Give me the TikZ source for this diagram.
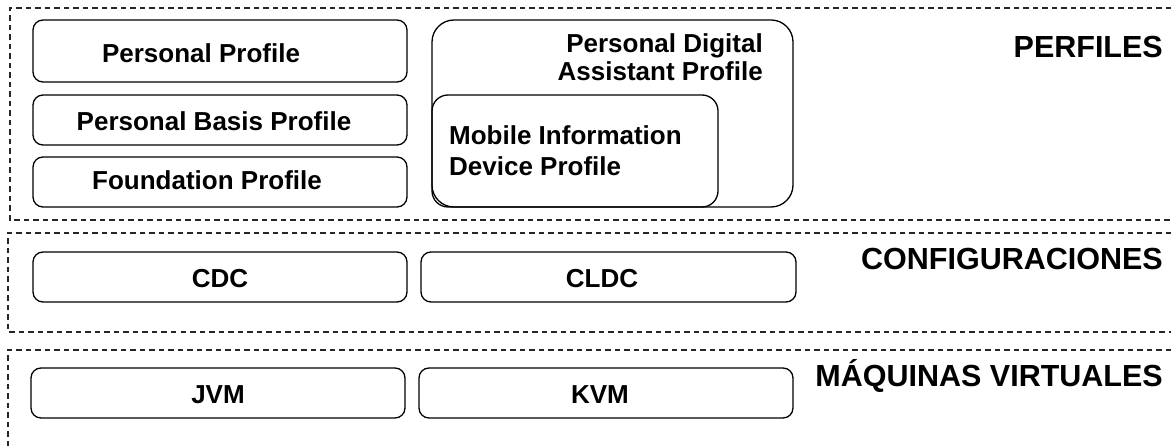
\documentclass[tikz,border=0pt]{standalone}
\usepackage{fontspec}
\setmainfont{Liberation Sans}
\begin{document}
\begin{tikzpicture}[x=1pt,y=-1pt,
  frame/.style={draw=black!85,line width=1.1pt,dash pattern=on 5.5pt off 4pt},
  box/.style={draw=black,line width=1.3pt,rounded corners=10pt},
  boxtext/.style={inner sep=0pt,font=\bfseries\fontsize{26}{31}\selectfont},
  layer/.style={inner sep=0pt,anchor=base east,font=\bfseries\fontsize{30.5}{36}\selectfont}]
\useasboundingbox (0,0) rectangle (1171,446);
% section frames (open on the right)
\draw[frame] (1171,8) -- (10,8) -- (10,220) -- (1171,220);
\draw[frame] (1171,233) -- (8,233) -- (8,332) -- (1171,332);
\draw[frame] (1171,350) -- (8,350) -- (8,446);
% profile boxes
\draw[box] (33,20) rectangle (407,82) coordinate (pp);
\draw[box] (33,95) rectangle (407,145) coordinate (pbp);
\draw[box] (33,157) rectangle (407,207) coordinate (fp);
\draw[box,rounded corners=22pt] (432,20) rectangle (793,207) coordinate (pda);
\draw[box,rounded corners=16pt] (432,95) rectangle (718,207) coordinate (midp);
\node[boxtext,anchor=base] (tpp) at (201,63) {Personal Profile};
\node[boxtext,anchor=base] (tpbp) at (214,131) {Personal Basis Profile};
\node[boxtext,anchor=base] (tfp) at (207,190) {Foundation Profile};
\node[boxtext,anchor=north east,align=right,font=\bfseries\fontsize{26}{28.5}\selectfont] (tpda) at (763,33) {Personal Digital\\Assistant Profile};
\node[boxtext,anchor=north west,align=left] (tmidp) at (449,125) {Mobile Information\\Device Profile};
% configurations
\draw[box] (33,252) rectangle (407,302) coordinate (cdc);
\draw[box] (421,252) rectangle (796,302) coordinate (cldc);
\node[boxtext,anchor=base] (tcdc) at (220,288) {CDC};
\node[boxtext,anchor=base] (tcldc) at (602,288) {CLDC};
% virtual machines
\draw[box] (31,368) rectangle (405,418) coordinate (jvm);
\draw[box] (419,368) rectangle (793,418) coordinate (kvm);
\node[boxtext,anchor=base] (tjvm) at (218,404) {JVM};
\node[boxtext,anchor=base] (tkvm) at (600,404) {KVM};
% layer labels
\node[layer] (lperf) at (1163,58) {PERFILES};
\node[layer] (lconf) at (1163,270) {CONFIGURACIONES};
\node[layer] (lmaq) at (1163,387) {MÁQUINAS VIRTUALES};
\end{tikzpicture}
\end{document}
